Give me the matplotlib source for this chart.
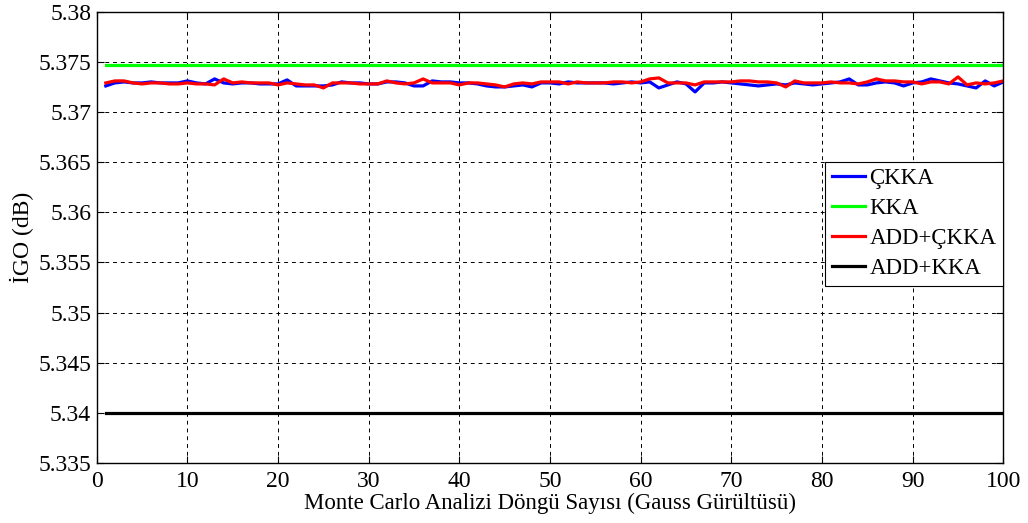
import numpy as np
import matplotlib
matplotlib.use("Agg")
import matplotlib.pyplot as plt

x = np.arange(1, 101)

ckka = [5.3726, 5.3729, 5.3730, 5.3729, 5.3729, 5.3730, 5.3729, 5.3729, 5.3729, 5.3731,
        5.3729, 5.3728, 5.3733, 5.3729, 5.3728, 5.3729, 5.3729, 5.3728, 5.3728, 5.3728,
        5.3732, 5.3726, 5.3726, 5.3726, 5.3726, 5.3727, 5.3730, 5.3729, 5.3729, 5.3728,
        5.3728, 5.3730, 5.3730, 5.3729, 5.3726, 5.3726, 5.3731, 5.3730, 5.3730, 5.3729,
        5.3729, 5.3728, 5.3726, 5.3725, 5.3725, 5.3726, 5.3727, 5.3725, 5.3729, 5.3729,
        5.3728, 5.3730, 5.3729, 5.3729, 5.3729, 5.3729, 5.3728, 5.3729, 5.3730, 5.3729,
        5.3730, 5.3724, 5.3727, 5.3730, 5.3728, 5.3720, 5.3729, 5.3729, 5.3730, 5.3729,
        5.3728, 5.3727, 5.3726, 5.3727, 5.3728, 5.3727, 5.3729, 5.3728, 5.3727, 5.3728,
        5.3729, 5.3730, 5.3733, 5.3727, 5.3727, 5.3729, 5.3730, 5.3729, 5.3726, 5.3729,
        5.3730, 5.3733, 5.3731, 5.3729, 5.3728, 5.3726, 5.3724, 5.3731, 5.3726, 5.3730]

kka = [5.37465] * 100

add_ckka = [5.3729, 5.3731, 5.3731, 5.3729, 5.3728, 5.3729, 5.3729, 5.3728, 5.3728, 5.3729,
            5.3728, 5.3728, 5.3727, 5.3733, 5.3729, 5.3730, 5.3729, 5.3729, 5.3729, 5.3727,
            5.3729, 5.3728, 5.3727, 5.3727, 5.3724, 5.3729, 5.3729, 5.3729, 5.3728, 5.3728,
            5.3728, 5.3731, 5.3729, 5.3728, 5.3729, 5.3733, 5.3729, 5.3729, 5.3729, 5.3727,
            5.3729, 5.3729, 5.3728, 5.3727, 5.3725, 5.3728, 5.3729, 5.3728, 5.3730, 5.3730,
            5.3730, 5.3728, 5.3730, 5.3729, 5.3729, 5.3729, 5.3730, 5.3730, 5.3729, 5.3730,
            5.3733, 5.3734, 5.3729, 5.3729, 5.3729, 5.3727, 5.3730, 5.3730, 5.3730, 5.3730,
            5.3731, 5.3731, 5.3730, 5.3730, 5.3729, 5.3725, 5.3731, 5.3729, 5.3729, 5.3729,
            5.3730, 5.3729, 5.3729, 5.3728, 5.3730, 5.3733, 5.3731, 5.3731, 5.3730, 5.3730,
            5.3728, 5.3730, 5.3730, 5.3728, 5.3735, 5.3727, 5.3729, 5.3728, 5.3729, 5.3731]

add_kka = [5.3400] * 100

labels = ["ÇKKA", "KKA", "ADD+ÇKKA", "ADD+KKA"]
colors = ["#0000ff", "#00ff00", "#ff0000", "#000000"]

xticks = np.arange(0, 101, 10)
yticks = np.round(np.arange(5.335, 5.3801, 0.005), 3)
yticklabels = ["5.335", "5.34", "5.345", "5.35", "5.355", "5.36", "5.365", "5.37", "5.375", "5.38"]

plt.rcParams['font.family'] = ['Liberation Serif', 'DejaVu Serif']

fig = plt.figure(figsize=(10.28, 5.23), dpi=100)
ax = fig.add_axes([0.0941, 0.1147, 0.8819, 0.8629])

for series, lab, col in zip([ckka, kka, add_ckka, add_kka], labels, colors):
    ax.plot(x, series, color=col, lw=2.3, label=lab)

ax.set_xlim(0, 100)
ax.set_ylim(5.335, 5.38)
ax.set_xticks(xticks)
ax.set_yticks(yticks)
ax.set_yticklabels(yticklabels)
ax.tick_params(direction='in', top=True, right=True, length=5, width=0.8,
               labelsize=17)
ax.tick_params(axis='x', pad=6)
ax.tick_params(axis='y', pad=4)
ax.grid(True, color='black', linestyle=(0, (4, 4)), linewidth=0.7)
for s in ax.spines.values():
    s.set_linewidth(1.0)
    s.set_color('black')

ax.set_xlabel("Monte Carlo Analizi Döngü Sayısı (Gauss Gürültüsü)", fontsize=16.5, labelpad=0)
ax.set_ylabel("İGO (dB)", fontsize=17, labelpad=3)

leg = ax.legend(loc='upper right', bbox_to_anchor=(1.0, 0.668), fontsize=16.5,
                frameon=True, fancybox=False, framealpha=1, edgecolor='black',
                handlelength=1.45, handletextpad=0.2, labelspacing=0.38,
                borderpad=0.3, borderaxespad=0)
leg.get_frame().set_linewidth(0.8)

fig.savefig("out.png", dpi=100)
